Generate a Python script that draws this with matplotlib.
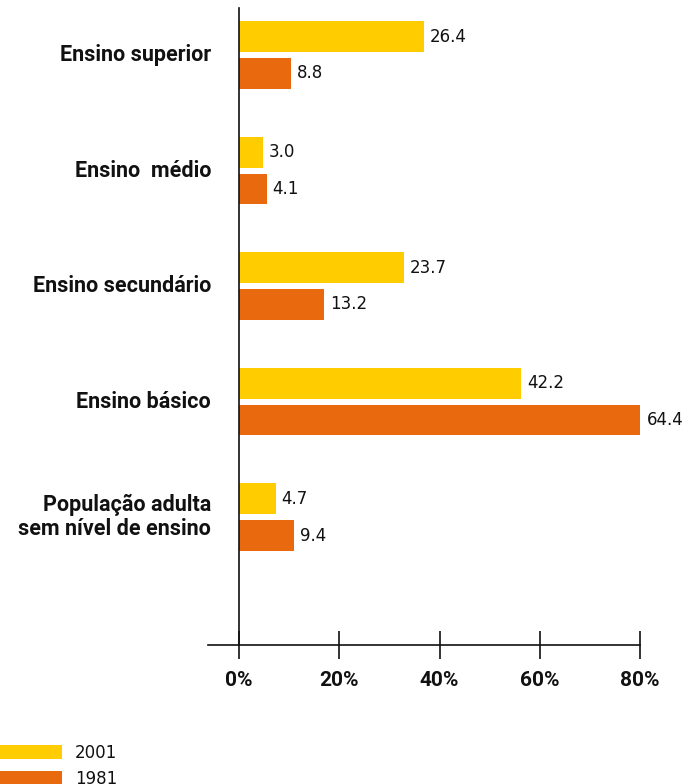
import matplotlib.pyplot as plt
import numpy as np

plt.rcParams['font.family'] = ['Roboto', 'DejaVu Sans']

# categories, top to bottom
categories = ['Ensino superior', 'Ensino  médio', 'Ensino secundário',
              'Ensino básico', 'População adulta\nsem nível de ensino']
# printed values
labels_2001 = ['26.4', '3.0', '23.7', '42.2', '4.7']
labels_1981 = ['8.8', '4.1', '13.2', '64.4', '9.4']
# bar lengths as drawn (% on the axis)
bars_2001 = [36.9, 4.8, 32.9, 56.3, 7.4]
bars_1981 = [10.4, 5.6, 17.0, 80.2, 11.0]
xticks = [0, 20, 40, 60, 80]

yellow = '#FFCC00'
orange = '#E9690E'
ink = '#111111'

fig = plt.figure(figsize=(6.91, 7.84), dpi=100)
ax = fig.add_axes([208 / 691, 1 - 645 / 784, 432 / 691, 637 / 784])

y = np.arange(len(categories))
off = 0.16
h = 0.268
b1 = ax.barh(y - off, bars_2001, height=h, color=yellow, label='2001')
b2 = ax.barh(y + off, bars_1981, height=h, color=orange, label='1981')

for bars, labs in ((b1, labels_2001), (b2, labels_1981)):
    for bar, lab in zip(bars, labs):
        ax.annotate(lab, (bar.get_width(), bar.get_y() + bar.get_height() / 2),
                    xytext=(4, 0), textcoords='offset points',
                    ha='left', va='center', fontsize=12, color=ink,
                    family='DejaVu Sans', annotation_clip=False)

for yi, cat in zip(y, categories):
    ax.text(-5.6, yi, cat, ha='right', va='center', fontsize=15.5,
            fontweight='bold', color=ink, multialignment='right',
            linespacing=1.12)

ax.set_xlim(-6.2, 80)
ax.set_ylim(5.108, -0.407)
ax.set_yticks([])
ax.set_xticks(xticks)
ax.set_xticklabels([f'{t}%' for t in xticks], fontweight='bold', fontsize=15, color=ink)
ax.tick_params(axis='x', direction='inout', length=20, width=1.2, color=ink, pad=9)

ax.spines['top'].set_visible(False)
ax.spines['right'].set_visible(False)
ax.spines['left'].set_position(('data', 0))
ax.spines['left'].set_color(ink)
ax.spines['bottom'].set_color(ink)
ax.spines['left'].set_linewidth(1.2)
ax.spines['bottom'].set_linewidth(1.2)

fig.legend(handles=[b1, b2], loc='upper left', bbox_to_anchor=(0, 1 - 744 / 784),
           frameon=False, handlelength=3.7, handleheight=0.9,
           borderpad=0, borderaxespad=0, handletextpad=0.8, labelspacing=0.45,
           prop={'family': 'DejaVu Sans', 'size': 12}, labelcolor=ink)

fig.savefig('out.png', dpi=100)
